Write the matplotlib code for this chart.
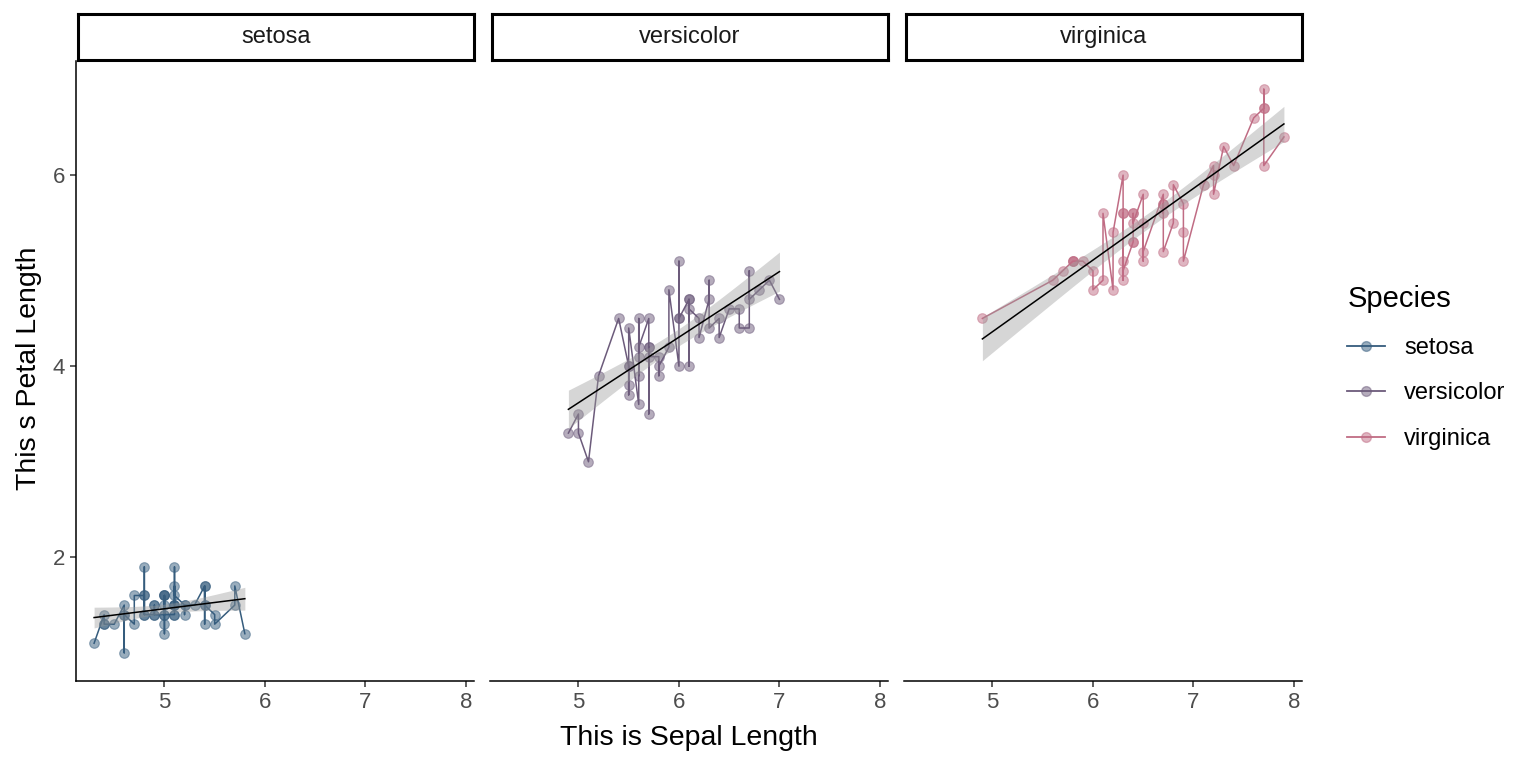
import matplotlib

matplotlib.use("Agg")
import matplotlib.pyplot as plt
import numpy as np
from matplotlib.lines import Line2D

plt.rcParams["font.family"] = ["Liberation Sans", "DejaVu Sans"]

SPECIES = ["setosa", "versicolor", "virginica"]
COLORS = {"setosa": "#355C7D", "versicolor": "#6C5B7B", "virginica": "#C06C84"}

# iris: sepal length / petal length, in dataset order
setosa_sepal = [5.1, 4.9, 4.7, 4.6, 5.0, 5.4, 4.6, 5.0, 4.4, 4.9, 5.4, 4.8, 4.8, 4.3, 5.8, 5.7, 5.4,
                5.1, 5.7, 5.1, 5.4, 5.1, 4.6, 5.1, 4.8, 5.0, 5.0, 5.2, 5.2, 4.7, 4.8, 5.4, 5.2, 5.5,
                4.9, 5.0, 5.5, 4.9, 4.4, 5.1, 5.0, 4.5, 4.4, 5.0, 5.1, 4.8, 5.1, 4.6, 5.3, 5.0]
setosa_petal = [1.4, 1.4, 1.3, 1.5, 1.4, 1.7, 1.4, 1.5, 1.4, 1.5, 1.5, 1.6, 1.4, 1.1, 1.2, 1.5, 1.3,
                1.4, 1.7, 1.5, 1.7, 1.5, 1.0, 1.7, 1.9, 1.6, 1.6, 1.5, 1.4, 1.6, 1.6, 1.5, 1.5, 1.4,
                1.5, 1.2, 1.3, 1.4, 1.3, 1.5, 1.3, 1.3, 1.3, 1.6, 1.9, 1.4, 1.6, 1.4, 1.5, 1.4]
versicolor_sepal = [7.0, 6.4, 6.9, 5.5, 6.5, 5.7, 6.3, 4.9, 6.6, 5.2, 5.0, 5.9, 6.0, 6.1, 5.6, 6.7,
                    5.6, 5.8, 6.2, 5.6, 5.9, 6.1, 6.3, 6.1, 6.4, 6.6, 6.8, 6.7, 6.0, 5.7, 5.5, 5.5,
                    5.8, 6.0, 5.4, 6.0, 6.7, 6.3, 5.6, 5.5, 5.5, 6.1, 5.8, 5.0, 5.6, 5.7, 5.7, 6.2,
                    5.1, 5.7]
versicolor_petal = [4.7, 4.5, 4.9, 4.0, 4.6, 4.5, 4.7, 3.3, 4.6, 3.9, 3.5, 4.2, 4.0, 4.7, 3.6, 4.4,
                    4.5, 4.1, 4.5, 3.9, 4.8, 4.0, 4.9, 4.7, 4.3, 4.4, 4.8, 5.0, 4.5, 3.5, 3.8, 3.7,
                    3.9, 5.1, 4.5, 4.5, 4.7, 4.4, 4.1, 4.0, 4.4, 4.6, 4.0, 3.3, 4.2, 4.2, 4.2, 4.3,
                    3.0, 4.1]
virginica_sepal = [6.3, 5.8, 7.1, 6.3, 6.5, 7.6, 4.9, 7.3, 6.7, 7.2, 6.5, 6.4, 6.8, 5.7, 5.8, 6.4,
                   6.5, 7.7, 7.7, 6.0, 6.9, 5.6, 7.7, 6.3, 6.7, 7.2, 6.2, 6.1, 6.4, 7.2, 7.4, 7.9,
                   6.4, 6.3, 6.1, 7.7, 6.3, 6.4, 6.0, 6.9, 6.7, 6.9, 5.8, 6.8, 6.7, 6.7, 6.3, 6.5,
                   6.2, 5.9]
virginica_petal = [6.0, 5.1, 5.9, 5.6, 5.8, 6.6, 4.5, 6.3, 5.8, 6.1, 5.1, 5.3, 5.5, 5.0, 5.1, 5.3,
                   5.5, 6.7, 6.9, 5.0, 5.7, 4.9, 6.7, 4.9, 5.7, 6.0, 4.8, 4.9, 5.6, 5.8, 6.1, 6.4,
                   5.6, 5.1, 5.6, 6.1, 5.6, 5.5, 4.8, 5.4, 5.6, 5.1, 5.1, 5.9, 5.7, 5.2, 5.0, 5.2,
                   5.4, 5.1]

DATA = {
    "setosa": (setosa_sepal, setosa_petal),
    "versicolor": (versicolor_sepal, versicolor_petal),
    "virginica": (virginica_sepal, virginica_petal),
}
X_TICKS = [5, 6, 7, 8]
Y_TICKS = [2, 4, 6]


def lm_band(x, y, n=80):
    x = np.asarray(x)
    y = np.asarray(y)
    X = np.column_stack([np.ones_like(x), x])
    beta, *_ = np.linalg.lstsq(X, y, rcond=None)
    resid = y - X @ beta
    s2 = resid @ resid / (len(x) - 2)
    cov = s2 * np.linalg.inv(X.T @ X)
    xs = np.linspace(x.min(), x.max(), n)
    Xs = np.column_stack([np.ones_like(xs), xs])
    fit = Xs @ beta
    se = np.sqrt(np.einsum("ij,jk,ik->i", Xs, cov, Xs))
    t = 2.0106  # t(0.975, 48)
    return xs, fit, fit - t * se, fit + t * se


all_x = np.concatenate([np.asarray(v[0]) for v in DATA.values()])
all_y = np.concatenate([np.asarray(v[1]) for v in DATA.values()])
xr = all_x.max() - all_x.min()
yr = all_y.max() - all_y.min()
xlim = (all_x.min() - 0.05 * xr, all_x.max() + 0.05 * xr)
ylim = (all_y.min() - 0.05 * yr, all_y.max() + 0.05 * yr)

fig = plt.figure(figsize=(15.36, 7.68), dpi=100)
W, H = 1536, 768
left0, pw, gap = 76, 398, 16
ptop, pbot = 61, 681
strip_h = 46

for i, sp in enumerate(SPECIES):
    x0 = left0 + i * (pw + gap)
    ax = fig.add_axes([x0 / W, 1 - pbot / H, pw / W, (pbot - ptop) / H])
    x, y = map(np.asarray, DATA[sp])
    order = np.argsort(x, kind="stable")
    col = COLORS[sp]
    ax.plot(x[order], y[order], color=col, lw=1.1, zorder=2)
    ax.scatter(x, y, s=48, color=col, alpha=0.5, edgecolors=col, linewidths=0.8, zorder=3)
    xs, fit, lo, hi = lm_band(x, y)
    ax.fill_between(xs, lo, hi, color="#999999", alpha=0.4, lw=0, zorder=4)
    ax.plot(xs, fit, color="black", lw=1.1, zorder=5)
    ax.set_xlim(xlim)
    ax.set_ylim(ylim)
    ax.set_xticks(X_TICKS)
    ax.set_yticks(Y_TICKS)
    for s in ("top", "right"):
        ax.spines[s].set_visible(False)
    ax.spines["bottom"].set_linewidth(1.1)
    ax.spines["left"].set_linewidth(1.1)
    ax.tick_params(labelsize=16, labelcolor="#4d4d4d", length=4, width=1.1, color="#333333",
                   pad=4)
    if i > 0:
        ax.spines["left"].set_visible(False)
        ax.tick_params(axis="y", left=False, labelleft=False)
    # strip
    sax = fig.add_axes([(x0 + 2) / W, 1 - (ptop - 1) / H, (pw - 2) / W, strip_h / H])
    sax.set_xticks([])
    sax.set_yticks([])
    for s in sax.spines.values():
        s.set_linewidth(2.2)
        s.set_color("black")
    sax.text(0.5, 0.5, sp, ha="center", va="center", fontsize=17, color="#1a1a1a",
             transform=sax.transAxes)

fig.text((left0 + (3 * pw + 2 * gap) / 2) / W, 1 - 738 / H, "This is Sepal Length",
         ha="center", va="center", fontsize=20.5)
fig.text(29 / W, 1 - 368 / H, "This s Petal Length", ha="center", va="center",
         rotation=90, fontsize=20.5)

handles = [Line2D([0], [0], color=COLORS[sp], lw=1.3, marker="o", markersize=7,
                  markerfacecolor=COLORS[sp] + "80", markeredgecolor=COLORS[sp] + "80")
           for sp in SPECIES]
leg = fig.legend(handles, SPECIES, title="Species", loc="upper left",
                 bbox_to_anchor=(1326 / W, 1 - 264 / H), frameon=False, fontsize=17,
                 title_fontsize=21, handlelength=1.6, labelspacing=1.0, handletextpad=0.8,
                 alignment="left")

fig.savefig("out.png", dpi=100, facecolor="white")
